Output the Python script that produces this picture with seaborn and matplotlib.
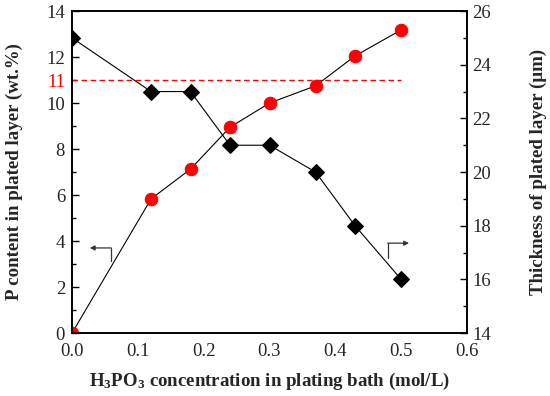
import matplotlib
matplotlib.use("Agg")
import matplotlib.pyplot as plt
import seaborn as sns
import pandas as pd
from matplotlib.ticker import MultipleLocator

# Data
conc = [0.0, 0.12, 0.18, 0.24, 0.30, 0.37, 0.43, 0.50]
p_content = [0.0, 5.83, 7.13, 8.95, 10.0, 10.75, 12.05, 13.18]
thickness = [25.0, 23.0, 23.0, 21.0, 21.0, 20.0, 18.0, 16.0]
ref_level = 11
ref_x = [0.0, 0.5]

sns.set_theme(style="white")
plt.rcParams['font.family'] = ['Liberation Serif', 'DejaVu Serif']
plt.rcParams['mathtext.default'] = 'regular'

df = pd.DataFrame({"conc": conc, "p": p_content, "t": thickness})

fig = plt.figure(figsize=(5.5, 3.96), dpi=100)
ax = fig.add_axes([0.131, 0.159, 0.718, 0.813])
ax2 = ax.twinx()

sns.lineplot(data=df, x="conc", y="p", ax=ax, color="black", lw=0.8,
             marker="o", markersize=9, markerfacecolor="#ff0000",
             markeredgecolor="#ff0000", clip_on=True, zorder=3)
sns.lineplot(data=df, x="conc", y="t", ax=ax2, color="black", lw=0.8,
             marker="D", markersize=8, markerfacecolor="black",
             markeredgecolor="black", clip_on=True, zorder=3)

ax.plot(ref_x, [ref_level, ref_level], color="#ff0000", ls=(0, (4, 2.5)), lw=1.0)

ax.set_xlim(0, 0.6)
ax.set_ylim(0, 14)
ax2.set_ylim(14, 26)

ax.xaxis.set_major_locator(MultipleLocator(0.1))
ax.xaxis.set_minor_locator(MultipleLocator(0.05))
ax.set_yticks([0, 2, 4, 6, 8, 10, 11, 12, 14])
ax.yaxis.set_minor_locator(MultipleLocator(1))
ax2.yaxis.set_major_locator(MultipleLocator(2))
ax2.yaxis.set_minor_locator(MultipleLocator(1))
ax.xaxis.set_major_formatter(plt.FuncFormatter(lambda v, p: f"{v:.1f}"))

fs = 13.5
lfs = 13.6
for a in (ax, ax2):
    a.tick_params(which="both", direction="in", labelsize=fs, color="black",
                  width=1.0, pad=3)
    a.tick_params(which="major", length=5)
    a.tick_params(which="minor", length=3)
    for s in a.spines.values():
        s.set_color("black")
        s.set_linewidth(1.2)
ax.tick_params(axis="x", which="both", top=False, pad=7)
ax.tick_params(axis="y", which="both", pad=5)
ax2.tick_params(axis="y", which="both", left=False, right=True, pad=4)

for lab in ax.get_yticklabels():
    if lab.get_text() == "11":
        lab.set_color("#ff0000")
for tk, v in zip(ax.yaxis.get_major_ticks(), ax.get_yticks()):
    if v == 11:
        tk.tick1line.set_markersize(3)

ax.set_xlabel(r"H$_3$PO$_3$ concentration in plating bath (mol/L)",
              fontsize=lfs, fontweight="bold", labelpad=8)
ax.set_ylabel("P content in plated layer (wt.%)", fontsize=lfs,
              fontweight="bold", labelpad=17)
ax2.set_ylabel("Thickness of plated layer (μm)", fontsize=lfs,
               fontweight="bold", labelpad=28)

# direction arrows
ax.plot([0.059, 0.059], [3.13, 3.7], color="#333333", lw=0.9)
ax.annotate("", xy=(0.027, 3.7), xytext=(0.0595, 3.7),
            arrowprops=dict(arrowstyle="-|>", color="#333333", lw=0.9,
                            mutation_scale=7, shrinkA=0, shrinkB=0))
ax2.plot([0.48, 0.48], [16.8, 17.35], color="#333333", lw=0.9)
ax2.annotate("", xy=(0.512, 17.35), xytext=(0.4795, 17.35),
             arrowprops=dict(arrowstyle="-|>", color="#333333", lw=0.9,
                             mutation_scale=7, shrinkA=0, shrinkB=0))

ax.grid(False)
ax2.grid(False)
fig.savefig("out.png", dpi=100)
